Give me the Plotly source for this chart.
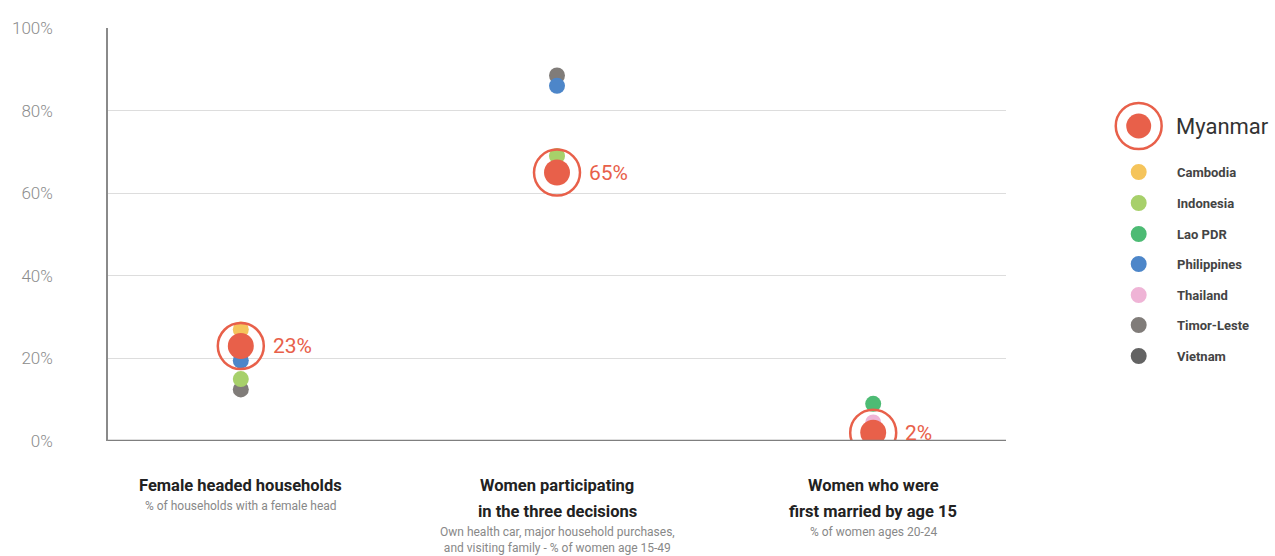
import plotly.graph_objects as go

# Indicator columns
categories = ["Female headed households",
              "Women participating in the three decisions",
              "Women who were first married by age 15"]
cat_titles = [["Female headed households"],
              ["Women participating", "in the three decisions"],
              ["Women who were", "first married by age 15"]]
cat_subtitles = ["% of households with a female head",
                 "Own health car, major household purchases,<br>and visiting family - % of women age 15-49",
                 "% of women ages 20-24"]

# Country values (percent); None = not shown
countries = ["Cambodia", "Indonesia", "Lao PDR", "Philippines", "Thailand", "Timor-Leste", "Vietnam"]
cambodia = [27.0, None, None]
indonesia = [15.0, 69.0, None]
lao_pdr = [None, None, 9.0]
philippines = [19.5, 86.0, None]
thailand = [None, None, 4.5]
timor_leste = [12.5, 88.5, None]
vietnam = [None, None, None]
myanmar = [23, 65, 2]
myanmar_labels = ["23%", "65%", "2%"]

y_ticks = [0, 20, 40, 60, 80, 100]
y_ticklabels = ["0%", "20%", "40%", "60%", "80%", "100%"]

country_values = [cambodia, indonesia, lao_pdr, philippines, thailand, timor_leste, vietnam]
country_colors = ["#F5C45B", "#A7D06A", "#4DBB74", "#4D86C9", "#EFB4D6", "#807C79", "#636363"]
myanmar_color = "#E8604A"

fig = go.Figure()

# Draw order: Vietnam and Timor-Leste first, the rest on top
draw_order = [6, 5, 1, 2, 4, 3, 0]
for i in draw_order:
    fig.add_trace(go.Scatter(
        x=categories, y=country_values[i], mode="markers", name=countries[i],
        marker=dict(size=16, color=country_colors[i], line=dict(width=0)),
        showlegend=False, hoverinfo="name+y"))

fig.add_trace(go.Scatter(
    x=categories, y=myanmar, mode="markers", name="Myanmar",
    marker=dict(size=26, color=myanmar_color, line=dict(width=0)),
    showlegend=False))
fig.add_trace(go.Scatter(
    x=categories, y=myanmar, mode="markers", name="Myanmar",
    marker=dict(size=46, symbol="circle-open", color=myanmar_color,
                line=dict(width=2.5, color=myanmar_color)),
    showlegend=False, hoverinfo="skip"))

annotations = []
# Myanmar value labels
for c, v, t in zip(categories, myanmar, myanmar_labels):
    annotations.append(dict(x=c, y=v, text=t, showarrow=False, xanchor="left",
                            xshift=30, font=dict(family="Roboto", size=21, color=myanmar_color)))

# Column titles and subtitles below the plot
for c, lines, s in zip(categories, cat_titles, cat_subtitles):
    for k, line in enumerate(lines):
        annotations.append(dict(x=c, y=0, yref="y", text=line, showarrow=False,
                                yanchor="middle", yshift=-44 - 26 * k, align="center",
                                font=dict(family="Roboto", size=16.5, color="#222222",
                                          weight="bold")))
    annotations.append(dict(x=c, y=0, yref="y", text=s, showarrow=False, yanchor="top",
                            yshift=-56 - 26 * (len(lines) - 1), align="center",
                            font=dict(family="Roboto", size=12, color="#888888")))

shapes = []
# Legend drawn in pixel-based paper coordinates
W, H = 1275, 556
L, R, T, B = 106, 269, 28, 115
pw, ph = W - L - R, H - T - B


def px(x):
    return (x - L) / pw


def py(y):
    return (H - B - y) / ph


leg_x = 1139
# Myanmar entry with ring
shapes.append(dict(type="circle", xref="paper", yref="paper",
                   x0=px(leg_x - 23), x1=px(leg_x + 23), y0=py(126 + 23), y1=py(126 - 23),
                   line=dict(color=myanmar_color, width=2.5), fillcolor="rgba(0,0,0,0)"))
shapes.append(dict(type="circle", xref="paper", yref="paper",
                   x0=px(leg_x - 12.5), x1=px(leg_x + 12.5), y0=py(126 + 12.5), y1=py(126 - 12.5),
                   line=dict(width=0), fillcolor=myanmar_color))
annotations.append(dict(xref="paper", yref="paper", x=px(1174), y=py(126), text="Myanmar",
                        showarrow=False, xanchor="left", yanchor="middle",
                        font=dict(family="Roboto", size=22, color="#333333")))
leg_ys = [172, 203, 234, 264, 295, 325, 356]
for name, col, ly in zip(countries, country_colors, leg_ys):
    shapes.append(dict(type="circle", xref="paper", yref="paper",
                       x0=px(leg_x - 8), x1=px(leg_x + 8), y0=py(ly + 8), y1=py(ly - 8),
                       line=dict(width=0), fillcolor=col))
    annotations.append(dict(xref="paper", yref="paper", x=px(1175), y=py(ly), text=name,
                            showarrow=False, xanchor="left", yanchor="middle",
                            font=dict(family="Roboto", size=13, color="#444444", weight="bold")))

fig.update_layout(
    width=W, height=H,
    margin=dict(l=L, r=R, t=T, b=B, pad=0),
    paper_bgcolor="white", plot_bgcolor="white",
    xaxis=dict(type="category", range=[-0.42, 2.42], showticklabels=False, showgrid=False,
               zeroline=False, showline=False, fixedrange=True),
    yaxis=dict(range=[0, 100], tickvals=y_ticks, ticktext=y_ticklabels,
               showgrid=True, gridcolor="#DDDDDD", gridwidth=1.2,
               zeroline=False, showline=True, linecolor="#8A8A8A", linewidth=1.5,
               ticks="", ticklabelstandoff=50,
               tickfont=dict(family="Roboto", size=17, color="#8C8C8C", weight=300)),
    showlegend=False,
    annotations=annotations,
    shapes=shapes + [
        dict(type="line", xref="paper", yref="y", x0=0, x1=1, y0=0, y1=0,
             line=dict(color="#7F7F7F", width=2.5), layer="above"),
    ],
)

fig.write_html("out.html")
